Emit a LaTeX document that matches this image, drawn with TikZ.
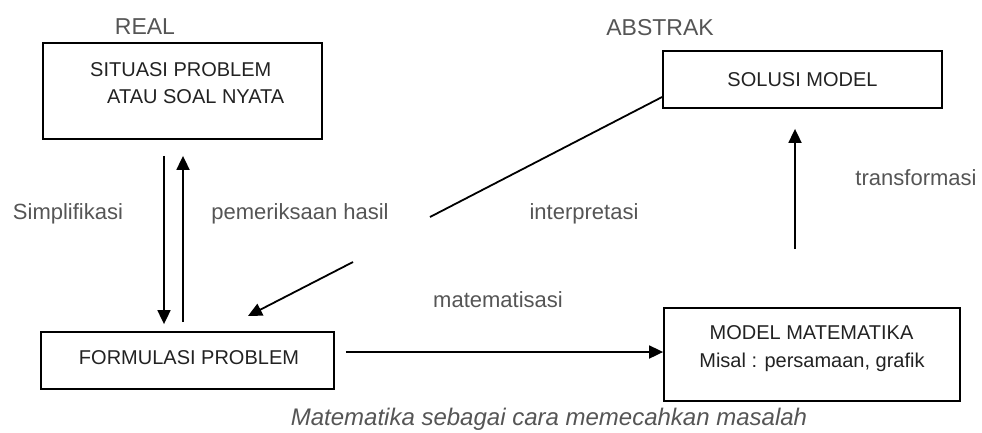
\documentclass[tikz,border=0pt]{standalone}
\usepackage{fontspec}
\setmainfont{Liberation Sans}
\usetikzlibrary{arrows.meta}
\definecolor{boxtext}{HTML}{222222}
\definecolor{labtext}{HTML}{555555}
\tikzset{
  box/.style={draw=black, line width=1.8pt, inner sep=0pt},
  boxtxt/.style={text=boxtext, font=\fontsize{20}{24}\selectfont, inner sep=0pt},
  lab/.style={text=labtext, font=\fontsize{22}{26}\selectfont, inner sep=0pt},
  head/.style={text=labtext, font=\fontsize{23}{27}\selectfont, inner sep=0pt},
  conn/.style={draw=black, line width=1.8pt},
  arr/.style={conn, -{Triangle[length=14pt,width=13pt]}}
}
\begin{document}
\begin{tikzpicture}[x=1pt,y=-1pt]
\useasboundingbox (0,0) rectangle (982,432);

% headings
\node[head] (real) at (145,27) {REAL};
\node[head] (abstrak) at (660,28) {ABSTRAK};

% boxes
\node[box, minimum width=279pt, minimum height=96pt] (sit) at (182.5,91) {};
\node[boxtxt, anchor=west] (sit1) at (90,70) {SITUASI PROBLEM};
\node[boxtxt, anchor=west] (sit2) at (107,97) {ATAU SOAL NYATA};

\node[box, minimum width=293pt, minimum height=57pt] (form) at (187.5,360.5) {};
\node[boxtxt] (formt) at (189,358) {FORMULASI PROBLEM};

\node[box, minimum width=279pt, minimum height=57pt] (solusi) at (802.5,79.5) {};
\node[boxtxt] (solusit) at (802.5,80) {SOLUSI MODEL};

\node[box, minimum width=296pt, minimum height=93pt] (model) at (812,354.5) {};
\node[boxtxt] (model1) at (811.5,333) {MODEL MATEMATIKA};
\node[boxtxt] (model2) at (812,362) {Misal : persamaan, grafik};

% labels
\node[lab] (simp) at (68,214) {Simplifikasi};
\node[lab] (periksa) at (300,214) {pemeriksaan hasil};
\node[lab] (interp) at (584,214) {interpretasi};
\node[lab] (trans) at (916,178) {transformasi};
\node[lab] (matsasi) at (498,300) {matematisasi};
\node[text=labtext, font=\fontsize{24}{28}\selectfont\itshape, inner sep=0pt] (caption) at (549,419) {Matematika sebagai cara memecahkan masalah};

% connectors
\draw[arr, shorten <=16pt, shorten >=7pt] (sit.south -| 164,0) -- (form.north -| 164,0);
\draw[arr, shorten <=9pt, shorten >=16pt] (form.north -| 183,0) -- (sit.south -| 183,0);
\draw[arr, shorten <=11pt] (form.east |- 0,352) -- (model.west |- 0,352);
\draw[arr, shorten <=58pt, shorten >=20pt] (model.north -| 795,0) -- (solusi.south -| 795,0);

\coordinate (i1) at (430,217);
\coordinate (i2) at (353,262);
\coordinate (i3) at (248,316);
\draw[conn] (solusi.west |- 0,97) -- (i1);
\draw[arr] (i2) -- (i3);
\end{tikzpicture}
\end{document}
